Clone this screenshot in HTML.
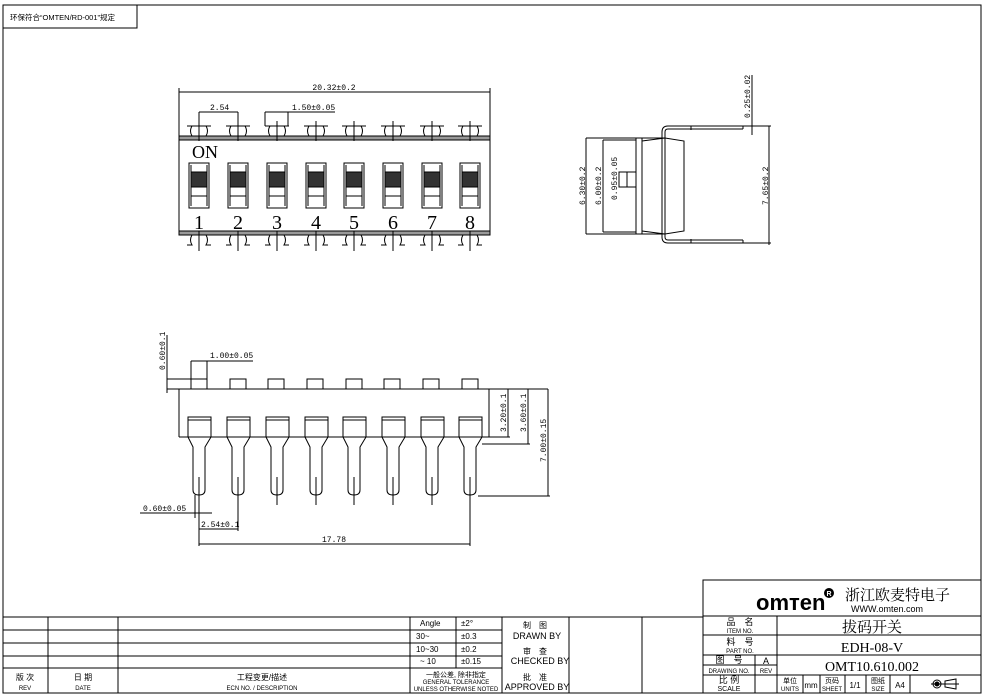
<!DOCTYPE html>
<html><head><meta charset="utf-8"><style>
html,body{margin:0;padding:0;background:#fff}
svg{display:block}
text{font-family:"Liberation Sans","Noto Sans CJK SC",sans-serif;fill:#000}
.s{font-family:"Liberation Serif","Noto Serif CJK SC",serif}
.m{font-family:"Liberation Mono",monospace}
</style></head><body>
<svg width="984" height="698" viewBox="0 0 984 698" xmlns="http://www.w3.org/2000/svg" fill="none" stroke="#000" stroke-width="1">
<defs>
<g id="tp">
 <line x1="0" y1="121" x2="0" y2="141"/>
 <path d="M-12,126 h5 q-3,5 0,10 h-5 M12,126 h-5 q3,5 0,10 h5 M-7,126 h14"/>
</g>
<g id="bp">
 <line x1="0" y1="231" x2="0" y2="251"/>
 <path d="M-12,235 h5 q-3,5 0,10 h-5 M12,235 h-5 q3,5 0,10 h5 M-7,235 h14"/>
</g>
<g id="sw">
 <rect x="-10" y="163" width="20" height="45"/>
 <rect x="-8" y="172" width="16" height="15" fill="#333" stroke="#000"/>
 <line x1="-8" y1="165" x2="-8" y2="206"/><line x1="8" y1="165" x2="8" y2="206"/>
 <line x1="-8" y1="196" x2="8" y2="196"/>
</g>
<g id="lp">
 <rect x="-11" y="417" width="23" height="20" fill="#fff"/>
 <line x1="-11" y1="420" x2="12" y2="420"/>
 <path d="M-11,437 L-6,447 V490 q0,5 6,5 q6,0 6,-5 V447 L12,437"/>
 <line x1="0" y1="477" x2="0" y2="505"/>
</g>
<g id="bump"><rect x="0" y="379" width="16" height="10"/></g>
</defs>

<rect x="3" y="5" width="978" height="688"/>
<rect x="3" y="5" width="134" height="23"/>
<text x="10" y="20" font-size="7.5" stroke="none">环保符合“OMTEN/RD-001”规定</text>

<line x1="179" y1="92" x2="490" y2="92"/>
<line x1="179" y1="88" x2="179" y2="233"/><line x1="490" y1="88" x2="490" y2="233"/>
<text class="m" x="334" y="90" font-size="8" text-anchor="middle" stroke="none">20.32±0.2</text>
<line x1="199" y1="112" x2="238" y2="112"/><line x1="199" y1="112" x2="199" y2="126"/><line x1="238" y1="112" x2="238" y2="126"/>
<text class="m" x="210" y="110" font-size="8" stroke="none">2.54</text>
<line x1="265" y1="112" x2="335" y2="112"/><line x1="265" y1="112" x2="265" y2="126"/><line x1="288" y1="112" x2="288" y2="126"/>
<text class="m" x="292" y="110" font-size="8" stroke="none">1.50±0.05</text>
<rect x="179" y="136" width="311" height="4" fill="#999"/>
<rect x="179" y="231" width="311" height="4" fill="#999"/>
<use href="#tp" x="199"/><use href="#tp" x="238"/><use href="#tp" x="277"/><use href="#tp" x="316"/><use href="#tp" x="354"/><use href="#tp" x="393"/><use href="#tp" x="432"/><use href="#tp" x="470"/>
<use href="#bp" x="199"/><use href="#bp" x="238"/><use href="#bp" x="277"/><use href="#bp" x="316"/><use href="#bp" x="354"/><use href="#bp" x="393"/><use href="#bp" x="432"/><use href="#bp" x="470"/>
<use href="#sw" x="199"/><use href="#sw" x="238"/><use href="#sw" x="277"/><use href="#sw" x="316"/><use href="#sw" x="354"/><use href="#sw" x="393"/><use href="#sw" x="432"/><use href="#sw" x="470"/>
<text class="s" x="192" y="158" font-size="18" stroke="none">ON</text>
<g class="s" font-size="20" text-anchor="middle" stroke="none">
<text class="s" x="199" y="229">1</text><text class="s" x="238" y="229">2</text><text class="s" x="277" y="229">3</text><text class="s" x="316" y="229">4</text><text class="s" x="354" y="229">5</text><text class="s" x="393" y="229">6</text><text class="s" x="432" y="229">7</text><text class="s" x="470" y="229">8</text>
</g>

<line x1="586" y1="138" x2="586" y2="234"/>
<line x1="586" y1="138" x2="665" y2="138"/><line x1="586" y1="234" x2="665" y2="234"/>
<line x1="603" y1="140" x2="603" y2="232"/>
<line x1="603" y1="140" x2="636" y2="140"/><line x1="603" y1="232" x2="636" y2="232"/>
<line x1="636" y1="138" x2="636" y2="234"/><line x1="642" y1="138" x2="642" y2="234"/>
<path d="M642,141 L665,138 L684,141 V231 L665,234 L642,231"/>
<line x1="665" y1="138" x2="665" y2="234"/>
<rect x="619" y="172" width="8" height="15"/><rect x="627" y="172" width="9" height="15"/>
<path d="M743,126 H668 q-6,0 -6,6 V237 q0,6 6,6 H743 M743,129 H668 q-3,0 -3,3 V237 q0,3 3,3 H743 M743,126 V129 M743,240 V243"/>
<line x1="691" y1="126" x2="691" y2="130"/><line x1="691" y1="239" x2="691" y2="243"/>
<line x1="752" y1="75" x2="752" y2="135"/>
<line x1="743" y1="126" x2="771" y2="126"/><line x1="743" y1="243" x2="771" y2="243"/>
<line x1="769" y1="126" x2="769" y2="245"/>
<g font-size="8" stroke="none">
<text class="m" transform="translate(585,205) rotate(-90)">6.30±0.2</text>
<text class="m" transform="translate(601,205) rotate(-90)">6.00±0.2</text>
<text class="m" transform="translate(617,200) rotate(-90)">0.95±0.05</text>
<text class="m" transform="translate(750,118) rotate(-90)">0.25±0.02</text>
<text class="m" transform="translate(768,205) rotate(-90)">7.65±0.2</text>
</g>

<line x1="167" y1="389" x2="489" y2="389"/>
<line x1="489" y1="389" x2="548" y2="389"/>
<line x1="167" y1="335" x2="167" y2="393"/>
<rect x="167" y="379" width="40" height="10"/><line x1="191" y1="361" x2="191" y2="389"/><line x1="207" y1="361" x2="207" y2="379"/>
<line x1="191" y1="361" x2="253" y2="361"/>
<text class="m" x="210" y="358" font-size="8" stroke="none">1.00±0.05</text>
<use href="#bump" x="230"/><use href="#bump" x="268"/><use href="#bump" x="307"/><use href="#bump" x="346"/><use href="#bump" x="384"/><use href="#bump" x="423"/><use href="#bump" x="462"/>
<line x1="179" y1="389" x2="179" y2="437"/><line x1="489" y1="389" x2="489" y2="437"/>
<line x1="179" y1="437" x2="489" y2="437"/>
<use href="#lp" x="199"/><use href="#lp" x="238"/><use href="#lp" x="277"/><use href="#lp" x="316"/><use href="#lp" x="354"/><use href="#lp" x="393"/><use href="#lp" x="432"/><use href="#lp" x="470"/>
<line x1="508" y1="389" x2="508" y2="437"/><line x1="489" y1="437" x2="510" y2="437"/>
<line x1="528" y1="389" x2="528" y2="444"/><line x1="482" y1="444" x2="530" y2="444"/>
<line x1="548" y1="389" x2="548" y2="496"/><line x1="478" y1="496" x2="550" y2="496"/>
<line x1="140" y1="513" x2="212" y2="513"/>
<line x1="195" y1="495" x2="195" y2="518"/><line x1="199" y1="495" x2="199" y2="546"/>
<line x1="199" y1="529" x2="238" y2="529"/><line x1="238" y1="495" x2="238" y2="531"/>
<line x1="199" y1="544" x2="470" y2="544"/><line x1="470" y1="495" x2="470" y2="546"/>
<g font-size="8" stroke="none">
<text class="m" transform="translate(165,370) rotate(-90)">0.60±0.1</text>
<text class="m" transform="translate(506,432) rotate(-90)">3.20±0.1</text>
<text class="m" transform="translate(526,432) rotate(-90)">3.60±0.1</text>
<text class="m" transform="translate(546,462) rotate(-90)">7.00±0.15</text>
<text class="m" x="143" y="511">0.60±0.05</text>
<text class="m" x="201" y="527">2.54±0.1</text>
<text class="m" x="322" y="542">17.78</text>
</g>

<g stroke-width="1">
<line x1="3" y1="617" x2="703" y2="617"/>
<line x1="3" y1="630" x2="410" y2="630"/><line x1="3" y1="643" x2="502" y2="643"/><line x1="3" y1="656" x2="410" y2="656"/><line x1="3" y1="668" x2="502" y2="668"/>
<line x1="410" y1="630" x2="502" y2="630"/><line x1="410" y1="656" x2="502" y2="656"/>
<line x1="48" y1="617" x2="48" y2="693"/><line x1="118" y1="617" x2="118" y2="693"/><line x1="410" y1="617" x2="410" y2="693"/>
<line x1="456" y1="617" x2="456" y2="668"/><line x1="502" y1="617" x2="502" y2="693"/>
<line x1="569" y1="617" x2="569" y2="693"/><line x1="642" y1="617" x2="642" y2="693"/>
</g>
<g font-size="8" stroke="none">
<text x="420" y="626">Angle</text><text x="461" y="626">±2°</text>
<text x="416" y="639">30~</text><text x="461" y="639">±0.3</text>
<text x="416" y="652">10~30</text><text x="461" y="652">±0.2</text>
<text x="420" y="664">~ 10</text><text x="461" y="664">±0.15</text>
<text x="535" y="628" text-anchor="middle">制　图</text>
<text x="537" y="639" text-anchor="middle" font-size="9">DRAWN BY</text>
<text x="535" y="654" text-anchor="middle">审　查</text>
<text x="540" y="664" text-anchor="middle" font-size="9">CHECKED BY</text>
<text x="535" y="680" text-anchor="middle">批　准</text>
<text x="537" y="690" text-anchor="middle" font-size="9">APPROVED BY</text>
<text x="25" y="680" text-anchor="middle">版 次</text><text x="25" y="690" text-anchor="middle" font-size="6">REV</text>
<text x="83" y="680" text-anchor="middle">日 期</text><text x="83" y="690" text-anchor="middle" font-size="6">DATE</text>
<text x="262" y="680" text-anchor="middle">工程变更/描述</text><text x="262" y="690" text-anchor="middle" font-size="6">ECN NO. / DESCRIPTION</text>
<text x="456" y="677" text-anchor="middle" font-size="7">一般公差, 除非指定</text>
<text x="456" y="684" text-anchor="middle" font-size="6">GENERAL TOLERANCE</text>
<text x="456" y="691" text-anchor="middle" font-size="6">UNLESS OTHERWISE NOTED</text>
</g>

<rect x="703" y="580" width="278" height="113"/>
<line x1="703" y1="616" x2="981" y2="616"/>
<line x1="703" y1="635" x2="981" y2="635"/><line x1="703" y1="655" x2="981" y2="655"/><line x1="703" y1="675" x2="981" y2="675"/>
<line x1="703" y1="665" x2="777" y2="665"/>
<line x1="777" y1="616" x2="777" y2="693"/><line x1="755" y1="655" x2="755" y2="693"/>
<line x1="803" y1="675" x2="803" y2="693"/><line x1="820" y1="675" x2="820" y2="693"/><line x1="845" y1="675" x2="845" y2="693"/><line x1="866" y1="675" x2="866" y2="693"/><line x1="890" y1="675" x2="890" y2="693"/><line x1="910" y1="675" x2="910" y2="693"/>
<g stroke="none">
<text x="756" y="610" font-size="22" font-weight="bold">omтen</text>
<circle cx="829" cy="593" r="5" fill="#000"/>
<text x="829" y="596" font-size="7" text-anchor="middle" font-weight="bold" style="fill:#fff">R</text>
<text x="845" y="600" font-size="15" class="s">浙江欧麦特电子</text>
<text x="851" y="612" font-size="9">WWW.omten.com</text>
<text x="740" y="625" font-size="9" text-anchor="middle">品　名</text><text x="740" y="633" font-size="6" text-anchor="middle">ITEM NO.</text>
<text x="740" y="645" font-size="9" text-anchor="middle">料　号</text><text x="740" y="653" font-size="6" text-anchor="middle">PART NO.</text>
<text x="729" y="663" font-size="9" text-anchor="middle">图　号</text><text x="729" y="673" font-size="6" text-anchor="middle">DRAWING NO.</text>
<text x="766" y="664" font-size="9" text-anchor="middle">A</text><text x="766" y="673" font-size="6" text-anchor="middle">REV</text>
<text x="729" y="683" font-size="9" text-anchor="middle">比 例</text><text x="729" y="691" font-size="7" text-anchor="middle">SCALE</text>
<text x="872" y="632" font-size="15" text-anchor="middle" class="s">拔码开关</text>
<text x="872" y="652" font-size="14" text-anchor="middle" class="s">EDH-08-V</text>
<text x="872" y="671" font-size="14" text-anchor="middle" class="s">OMT10.610.002</text>
<text x="790" y="683" font-size="7" text-anchor="middle">单位</text><text x="790" y="691" font-size="6" text-anchor="middle">UNITS</text>
<text x="811" y="688" font-size="8" text-anchor="middle">mm</text>
<text x="832" y="683" font-size="7" text-anchor="middle">页码</text><text x="832" y="691" font-size="6" text-anchor="middle">SHEET</text>
<text x="855" y="688" font-size="8" text-anchor="middle">1/1</text>
<text x="878" y="683" font-size="7" text-anchor="middle">图纸</text><text x="878" y="691" font-size="6" text-anchor="middle">SIZE</text>
<text x="900" y="688" font-size="8" text-anchor="middle">A4</text>
</g>
<circle cx="937" cy="684" r="4"/><circle cx="937" cy="684" r="2" fill="#000"/>
<path d="M931,684 H959 M945,681 L956,679 V689 L945,687 Z"/>
</svg>
</body></html>
